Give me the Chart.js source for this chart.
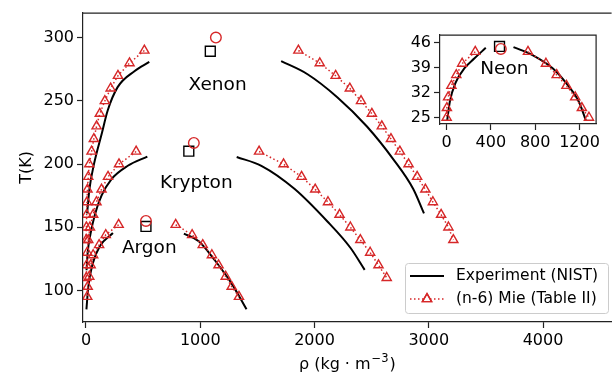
<!DOCTYPE html>
<html>
<head>
<meta charset="utf-8">
<script src="https://cdn.jsdelivr.net/npm/chart.js@4/dist/chart.umd.min.js"></script>
<style>
  html, body { margin: 0; padding: 0; background: #fff; overflow: hidden; }
  #wrap { position: relative; width: 614px; height: 377px; overflow: hidden; }
  #main { position: absolute; left: 0; top: 0; }
  #inset { position: absolute; left: 400px; top: 22px; }
</style>
</head>
<body>
<div id="wrap">
  <canvas id="main" width="620" height="377"></canvas>
  <canvas id="inset" width="205" height="135"></canvas>
</div>
<script>
// ---- Data (rho in kg/m3, T in K) ----

// Xenon
const xeExpVapRho = [10, 30, 70, 139, 190, 277, 424, 554];
const xeExpVapT   = [161, 180, 200, 224.5, 242.5, 261, 273.6, 281];
const xeExpLiqRho = [1708, 1939, 2199, 2459, 2690, 2863, 2958];
const xeExpLiqT   = [281.6, 271.2, 253, 229.8, 203.8, 180.5, 161];
const xeMieT      = [290, 280, 270, 260, 250, 240, 230, 220, 210, 200, 190, 180, 170, 160, 150, 140];
const xeMieVapRho = [511, 381, 280, 216, 165, 121, 93, 69, 49, 29, 20, 13, 9, 6, 4, 2];
const xeMieLiqRho = [1859, 2046, 2185, 2309, 2407, 2502, 2589, 2669, 2747, 2823, 2898, 2970, 3036, 3108, 3172, 3215];

// Krypton
const krExpVapRho = [5, 15, 40, 78, 136, 222, 366, 537];
const krExpVapT   = [116, 130, 145, 160, 175, 188, 198.7, 206];
const krExpLiqRho = [1319, 1535, 1824, 2113, 2314, 2439];
const krExpLiqT   = [205.7, 198.7, 180.5, 154.6, 133.8, 116.3];
const krMieT      = [210, 200, 190, 180, 170, 160, 150, 140, 130, 120, 110];
const krMieVapRho = [439, 289, 193, 136, 92, 63, 35, 20, 11, 6, 3];
const krMieLiqRho = [1515, 1729, 1887, 2006, 2118, 2219, 2314, 2401, 2487, 2560, 2632];

// Argon
const arExpVapRho = [4, 20, 58, 121, 236];
const arExpVapT   = [85, 102.7, 121, 135, 145.5];
const arExpLiqRho = [857, 987, 1131, 1275, 1405];
const arExpLiqT   = [145, 139, 123.5, 105.4, 85];
const arMieT      = [152, 144, 136, 128, 120, 111, 103, 95];
const arMieVapRho = [286, 173, 115, 63, 41, 29, 15, 11];
const arMieLiqRho = [785, 929, 1022, 1102, 1160, 1223, 1275, 1339];

// Neon (inset)
const neExpVapRho = [6, 30, 82, 162, 250, 354];
const neExpVapT   = [24.2, 29.5, 34.8, 38.8, 41.5, 44.5];
const neExpLiqRho = [604, 780, 960, 1090, 1197, 1257];
const neExpLiqT   = [44.7, 42.4, 38.7, 34.2, 29.2, 24.2];
const neMieT      = [43.4, 40.1, 36.9, 33.9, 30.7, 27.7, 25];
const neMieVapRho = [259, 141, 88, 44, 14, 3, 1];
const neMieLiqRho = [735, 897, 994, 1082, 1161, 1221, 1285];

// Critical points: Xe, Kr, Ar
const critExpRho = [1088, 900, 525];
const critExpT   = [289.4, 210.3, 150.7];
const critMieRho = [1137, 944, 525];
const critMieT   = [300.2, 216.8, 155];
const neCritExpRho = [478];
const neCritExpT   = [44.9];
const neCritMieRho = [490];
const neCritMieT   = [44.2];

// Text labels
const labelNames = ['Xenon', 'Krypton', 'Argon'];
const labelRho   = [1152, 965, 554];
const labelT     = [258.8, 181, 130];

// Ticks
const mainXTicks = [0, 1000, 2000, 3000, 4000];
const mainYTicks = [100, 150, 200, 250, 300];
const insetXTicks = [0, 400, 800, 1200];
const insetYTicks = [25, 32, 39, 46];

const RED = '#d62728';
const FONT = '"DejaVu Sans", sans-serif';

function pts(xs, ys) {
  return xs.map((x, i) => ({ x, y: ys[i] }));
}

function expSet(xs, ys) {
  return {
    data: pts(xs, ys), showLine: true, borderColor: '#000', borderWidth: 2,
    pointRadius: 0, cubicInterpolationMode: 'monotone'
  };
}

function mieSet(xs, ys) {
  return {
    data: pts(xs, ys), showLine: true, borderColor: RED, borderWidth: 1.5,
    borderDash: [1.5, 2.5], pointStyle: 'triangle', pointRadius: 5.3,
    pointBorderColor: RED, pointBackgroundColor: 'rgba(0,0,0,0)', pointBorderWidth: 1.4
  };
}

function critSet(xs, ys, style, color, r) {
  return {
    data: pts(xs, ys), showLine: false, pointStyle: style, pointRadius: r,
    pointBorderColor: color, pointBackgroundColor: 'rgba(0,0,0,0)', pointBorderWidth: 1.4
  };
}

function fixedTicks(list) {
  return scale => { scale.ticks = list.map(v => ({ value: v })); };
}

function axis(min, max, list, extra) {
  return Object.assign({
    type: 'linear', min, max,
    afterBuildTicks: fixedTicks(list),
    ticks: { font: { family: FONT, size: 16 }, color: '#000', padding: 3, callback: v => String(v) },
    grid: { drawOnChartArea: false, drawTicks: true, tickLength: 6, tickColor: '#222', tickWidth: 1.2 },
    border: { display: true, color: '#222', width: 1.2 }
  }, extra);
}

// x axis title with a real superscript
function drawXTitle(ctx, cx, baseY) {
  const big = '16px ' + FONT, small = '11.5px ' + FONT;
  const parts = [
    { t: 'ρ (kg', f: big, dy: 0, gap: 5 },
    { t: '·', f: big, dy: 0, gap: 5 },
    { t: 'm', f: big, dy: 0, gap: 1 },
    { t: '−3', f: small, dy: -7, gap: 1 },
    { t: ')', f: big, dy: 0, gap: 0 }
  ];
  let total = 0;
  parts.forEach(p => { ctx.font = p.f; p.w = ctx.measureText(p.t).width; total += p.w + p.gap; });
  let xx = cx - total / 2;
  ctx.textAlign = 'left';
  ctx.textBaseline = 'alphabetic';
  parts.forEach(p => { ctx.font = p.f; ctx.fillText(p.t, xx, baseY + p.dy); xx += p.w + p.gap; });
}

// ---- Main chart ----
const mainDecor = {
  id: 'mainDecor',
  afterDraw(chart) {
    const { ctx, chartArea: a, scales: { x, y } } = chart;
    ctx.save();
    ctx.strokeStyle = '#222';
    ctx.lineWidth = 1.2;
    ctx.beginPath();
    ctx.moveTo(a.left, a.top + 0.5);
    ctx.lineTo(a.right, a.top + 0.5);
    ctx.stroke();

    ctx.fillStyle = '#000';
    drawXTitle(ctx, (a.left + a.right) / 2, 369);

    ctx.font = '18.5px ' + FONT;
    ctx.textAlign = 'center';
    ctx.textBaseline = 'alphabetic';
    labelNames.forEach((n, i) => {
      ctx.fillText(n, x.getPixelForValue(labelRho[i]), y.getPixelForValue(labelT[i]));
    });

    // legend
    const lx = 405, ly = 263, lw = 203, lh = 50;
    ctx.beginPath();
    ctx.roundRect(lx + 0.5, ly + 0.5, lw, lh, 3);
    ctx.fillStyle = 'rgba(255,255,255,0.8)';
    ctx.fill();
    ctx.strokeStyle = '#cccccc';
    ctx.lineWidth = 1;
    ctx.stroke();

    ctx.strokeStyle = '#000';
    ctx.lineWidth = 2;
    ctx.beginPath();
    ctx.moveTo(410, 276);
    ctx.lineTo(444, 276);
    ctx.stroke();

    ctx.strokeStyle = RED;
    ctx.lineWidth = 1.5;
    ctx.setLineDash([1.5, 2.5]);
    ctx.beginPath();
    ctx.moveTo(410, 299);
    ctx.lineTo(444, 299);
    ctx.stroke();
    ctx.setLineDash([]);
    ctx.lineWidth = 1.4;
    ctx.fillStyle = '#fff';
    Chart.helpers.drawPoint(ctx, { pointStyle: 'triangle', radius: 5.3, borderWidth: 1.4 }, 427, 299);
    ctx.stroke();

    ctx.fillStyle = '#000';
    ctx.font = '15.5px ' + FONT;
    ctx.textAlign = 'left';
    ctx.textBaseline = 'middle';
    ctx.fillText('Experiment (NIST)', 456, 276);
    ctx.fillText('(n-6) Mie (Table II)', 456, 299);
    ctx.restore();
  }
};

new Chart(document.getElementById('main'), {
  type: 'scatter',
  data: {
    datasets: [
      mieSet(xeMieVapRho, xeMieT), mieSet(xeMieLiqRho, xeMieT),
      mieSet(krMieVapRho, krMieT), mieSet(krMieLiqRho, krMieT),
      mieSet(arMieVapRho, arMieT), mieSet(arMieLiqRho, arMieT),
      critSet(critMieRho, critMieT, 'circle', RED, 5.3),
      critSet(critExpRho, critExpT, 'rect', '#000', 7),
      expSet(xeExpVapRho, xeExpVapT), expSet(xeExpLiqRho, xeExpLiqT),
      expSet(krExpVapRho, krExpVapT), expSet(krExpLiqRho, krExpLiqT),
      expSet(arExpVapRho, arExpVapT), expSet(arExpLiqRho, arExpLiqT)
    ]
  },
  options: {
    responsive: false,
    animation: false,
    layout: { padding: { left: 0, top: 7, right: 3, bottom: 0 } },
    plugins: { legend: { display: false }, tooltip: { enabled: false } },
    scales: {
      x: axis(-26, 4600, mainXTicks, {
        afterFit: s => { s.height = 55; }
      }),
      y: axis(75, 320, mainYTicks, {
        afterFit: s => { s.width = 83; },
        title: { display: true, text: 'T(K)', color: '#000', font: { family: FONT, size: 16 }, padding: { top: 17, bottom: 0 } }
      })
    }
  },
  plugins: [mainDecor]
});

// ---- Inset (Neon) ----
const insetDecor = {
  id: 'insetDecor',
  beforeDraw(chart) {
    const { ctx, chartArea: a } = chart;
    ctx.save();
    ctx.fillStyle = '#fff';
    ctx.fillRect(a.left, a.top, a.right - a.left, a.bottom - a.top);
    ctx.restore();
  },
  afterDraw(chart) {
    const { ctx, chartArea: a, scales: { x, y } } = chart;
    ctx.save();
    ctx.strokeStyle = '#222';
    ctx.lineWidth = 1.2;
    ctx.beginPath();
    ctx.moveTo(a.left, a.top + 0.5);
    ctx.lineTo(a.right - 0.5, a.top + 0.5);
    ctx.lineTo(a.right - 0.5, a.bottom);
    ctx.stroke();
    ctx.fillStyle = '#000';
    ctx.font = '18.5px ' + FONT;
    ctx.textAlign = 'center';
    ctx.textBaseline = 'alphabetic';
    ctx.fillText('Neon', x.getPixelForValue(522), y.getPixelForValue(37.1));
    ctx.restore();
  }
};

new Chart(document.getElementById('inset'), {
  type: 'scatter',
  data: {
    datasets: [
      mieSet(neMieVapRho, neMieT), mieSet(neMieLiqRho, neMieT),
      critSet(neCritMieRho, neCritMieT, 'circle', RED, 5.3),
      critSet(neCritExpRho, neCritExpT, 'rect', '#000', 7),
      expSet(neExpVapRho, neExpVapT), expSet(neExpLiqRho, neExpLiqT)
    ]
  },
  options: {
    responsive: false,
    animation: false,
    layout: { padding: { left: 0, top: 8, right: 5, bottom: 0 } },
    plugins: { legend: { display: false }, tooltip: { enabled: false } },
    scales: {
      x: axis(-59, 1354, insetXTicks, { afterFit: s => { s.height = 33; } }),
      y: axis(23.2, 48.2, insetYTicks, { afterFit: s => { s.width = 40; } })
    }
  },
  plugins: [insetDecor]
});
</script>
</body>
</html>
